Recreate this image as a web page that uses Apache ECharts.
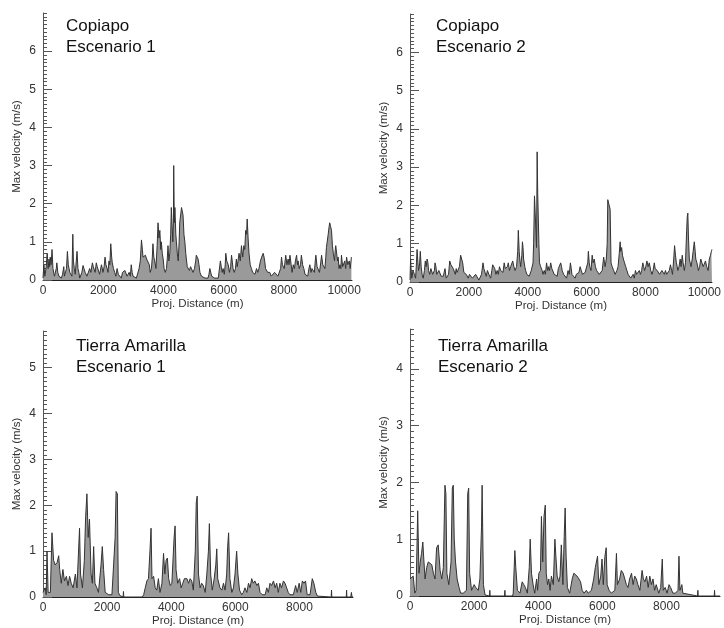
<!DOCTYPE html>
<html>
<head>
<meta charset="utf-8">
<title>Max velocity</title>
<script src="https://cdn.jsdelivr.net/npm/echarts@6/dist/echarts.min.js"></script>
<style>
  html, body { margin: 0; padding: 0; background: #fff; }
  #chart { width: 724px; height: 628px; }
</style>
</head>
<body>
<div id="chart"></div>
<script>
// [distance (m), max velocity (m/s)]

// Copiapo, Escenario 1
const copiapo1 = [[0,0.05],[30,0.4],[60,0.1],[100,0.3],[140,0.7],[170,0.3],[200,0.55],[220,0.35],[240,0.6],[270,0.4],[300,0.8],[330,0.3],[350,0.35],[380,0.1],[420,0.1],[440,0.3],[460,0.45],[490,0.2],[530,0.1],[570,0.05],[610,0.05],[650,0.15],[690,0.35],[710,0.1],[740,0.1],[780,0.3],[810,0.75],[840,0.4],[860,0.45],[890,0.2],[920,0.25],[960,0.1],[990,1.2],[1010,0.5],[1040,0.3],[1070,0.15],[1090,0.1],[1130,0.75],[1160,0.3],[1190,0.2],[1220,0.05],[1250,0.05],[1290,0.2],[1330,0.38],[1360,0.3],[1400,0.2],[1430,0.25],[1460,0.1],[1500,0.1],[1550,0.3],[1590,0.2],[1640,0.45],[1670,0.35],[1700,0.3],[1730,0.2],[1770,0.45],[1800,0.35],[1840,0.3],[1880,0.15],[1910,0.2],[1940,0.4],[1970,0.3],[1990,0.2],[2030,0.35],[2060,0.6],[2090,0.4],[2130,0.3],[2160,0.2],[2190,0.5],[2220,0.4],[2250,0.95],[2280,0.6],[2300,0.45],[2340,0.3],[2380,0.2],[2420,0.1],[2460,0.3],[2500,0.15],[2550,0.1],[2600,0.05],[2640,0.2],[2680,0.15],[2720,0.25],[2760,0.2],[2790,0.1],[2830,0.05],[2860,0.2],[2900,0.1],[2930,0.4],[2960,0.2],[2990,0.1],[3050,0.05],[3100,0.05],[3150,0.1],[3190,0.3],[3230,0.5],[3270,1.05],[3300,0.8],[3320,0.6],[3360,0.65],[3400,0.65],[3440,0.55],[3490,0.6],[3530,0.4],[3560,0.2],[3600,0.3],[3630,0.6],[3650,0.95],[3680,0.6],[3710,0.5],[3750,0.3],[3790,0.9],[3820,1.5],[3850,1.1],[3880,1.3],[3910,0.8],[3930,1.0],[3960,0.7],[3990,0.55],[4020,0.3],[4060,0.2],[4100,0.3],[4130,0.6],[4150,0.9],[4180,0.5],[4210,0.7],[4240,1.2],[4260,1.9],[4290,1.85],[4310,1.0],[4330,1.5],[4340,3.0],[4360,1.5],[4380,1.9],[4410,1.2],[4430,1.0],[4460,0.7],[4490,0.5],[4520,1.0],[4540,1.5],[4570,1.55],[4600,1.9],[4630,1.85],[4650,1.7],[4680,1.2],[4710,1.0],[4740,0.7],[4760,0.55],[4790,0.35],[4820,0.4],[4860,0.25],[4900,0.35],[4930,0.3],[4980,0.2],[5030,0.3],[5070,0.5],[5090,0.65],[5120,0.6],[5150,0.55],[5180,0.4],[5210,0.2],[5260,0.1],[5320,0.05],[5380,0.05],[5430,0.05],[5480,0.05],[5510,0.15],[5540,0.3],[5570,0.25],[5600,0.1],[5650,0.1],[5700,0.05],[5760,0.05],[5820,0.05],[5850,0.1],[5890,0.5],[5920,0.35],[5950,0.2],[5980,0.3],[6020,0.15],[6050,0.4],[6070,0.7],[6100,0.5],[6150,0.4],[6190,0.2],[6230,0.35],[6260,0.65],[6290,0.45],[6310,0.3],[6350,0.2],[6390,0.3],[6420,0.55],[6450,0.35],[6480,0.4],[6510,0.7],[6550,0.5],[6590,0.9],[6630,0.6],[6670,0.9],[6700,0.8],[6730,1.3],[6760,1.2],[6780,1.6],[6810,1.1],[6840,0.7],[6880,0.4],[6920,0.3],[6960,0.2],[7000,0.25],[7040,0.15],[7090,0.3],[7130,0.2],[7170,0.3],[7220,0.5],[7260,0.6],[7310,0.7],[7340,0.6],[7360,0.5],[7390,0.3],[7420,0.3],[7460,0.2],[7500,0.25],[7530,0.2],[7580,0.1],[7640,0.1],[7690,0.2],[7750,0.15],[7800,0.1],[7860,0.1],[7890,0.3],[7920,0.6],[7950,0.4],[7970,0.4],[8010,0.3],[8060,0.65],[8100,0.4],[8140,0.55],[8170,0.4],[8200,0.65],[8240,0.4],[8270,0.2],[8310,0.4],[8350,0.3],[8380,0.5],[8420,0.65],[8450,0.4],[8470,0.5],[8510,0.3],[8550,0.4],[8580,0.65],[8620,0.4],[8660,0.3],[8700,0.15],[8750,0.2],[8790,0.1],[8830,0.3],[8860,0.4],[8900,0.2],[8930,0.3],[8970,0.35],[9010,0.2],[9040,0.5],[9060,0.65],[9100,0.35],[9140,0.4],[9180,0.2],[9220,0.45],[9250,0.65],[9290,0.4],[9320,0.45],[9360,0.3],[9390,0.6],[9410,0.85],[9440,0.9],[9470,1.2],[9500,1.4],[9520,1.5],[9550,1.4],[9580,1.3],[9610,0.9],[9640,0.7],[9680,0.5],[9700,0.75],[9720,0.9],[9750,0.85],[9780,0.5],[9800,0.6],[9830,0.3],[9860,0.4],[9890,0.3],[9910,0.65],[9950,0.35],[9990,0.4],[10020,0.5],[10050,0.3],[10080,0.6],[10120,0.4],[10170,0.5],[10200,0.3],[10240,0.6]]

// Copiapo, Escenario 2
const copiapo2 = [[0,0.05],[20,0.6],[40,0.3],[60,0.1],[100,0.3],[150,0.2],[190,0.1],[220,0.5],[240,0.85],[270,0.5],[290,0.3],[320,0.4],[350,0.8],[380,0.4],[410,0.2],[450,0.1],[490,0.3],[520,0.55],[550,0.4],[580,0.6],[610,0.5],[630,0.3],[670,0.2],[710,0.35],[740,0.3],[770,0.2],[800,0.15],[830,0.3],[850,0.5],[880,0.4],[910,0.2],[940,0.2],[980,0.3],[1020,0.3],[1060,0.15],[1100,0.2],[1130,0.15],[1160,0.25],[1190,0.35],[1230,0.1],[1270,0.05],[1310,0.2],[1350,0.55],[1390,0.45],[1430,0.5],[1470,0.35],[1510,0.3],[1540,0.2],[1570,0.35],[1600,0.25],[1640,0.2],[1680,0.4],[1720,0.7],[1760,0.75],[1790,0.5],[1830,0.25],[1870,0.3],[1910,0.2],[1950,0.15],[1980,0.1],[2020,0.2],[2070,0.2],[2120,0.1],[2180,0.1],[2230,0.2],[2290,0.15],[2340,0.05],[2380,0.1],[2430,0.2],[2480,0.5],[2510,0.35],[2540,0.3],[2590,0.15],[2630,0.3],[2680,0.2],[2740,0.1],[2780,0.3],[2810,0.45],[2850,0.4],[2880,0.35],[2920,0.2],[2960,0.3],[3000,0.2],[3040,0.4],[3080,0.3],[3120,0.35],[3160,0.25],[3200,0.5],[3240,0.35],[3270,0.3],[3310,0.4],[3340,0.5],[3380,0.3],[3420,0.4],[3460,0.45],[3490,0.55],[3530,0.4],[3570,0.3],[3620,0.4],[3660,0.8],[3680,1.35],[3710,0.8],[3730,0.6],[3760,0.4],[3800,0.7],[3820,1.05],[3840,0.9],[3860,0.6],[3900,0.4],[3930,0.3],[3970,0.2],[4010,0.2],[4050,0.15],[4090,0.2],[4120,0.3],[4150,0.3],[4180,0.5],[4200,1.0],[4230,2.25],[4260,2.2],[4280,1.3],[4300,0.9],[4320,3.4],[4340,2.3],[4350,2.35],[4380,1.0],[4400,0.5],[4440,0.4],[4490,0.3],[4520,0.2],[4560,0.3],[4600,0.2],[4640,0.5],[4680,0.3],[4710,0.4],[4740,0.3],[4780,0.5],[4820,0.35],[4860,0.3],[4900,0.2],[4950,0.25],[5000,0.15],[5040,0.35],[5080,0.3],[5120,0.5],[5150,0.4],[5170,0.3],[5220,0.2],[5280,0.2],[5320,0.1],[5370,0.3],[5410,0.2],[5450,0.5],[5480,0.35],[5500,0.2],[5550,0.15],[5610,0.1],[5650,0.2],[5700,0.2],[5740,0.25],[5780,0.4],[5820,0.3],[5860,0.2],[5910,0.15],[5950,0.25],[6000,0.3],[6040,0.5],[6060,0.8],[6090,0.5],[6110,0.4],[6150,0.3],[6190,0.7],[6220,0.5],[6260,0.6],[6300,0.4],[6340,0.3],[6390,0.25],[6430,0.2],[6480,0.15],[6530,0.3],[6580,0.65],[6610,0.5],[6630,0.4],[6670,0.6],[6700,1.0],[6720,2.15],[6750,2.1],[6770,2.15],[6800,1.9],[6830,0.5],[6870,0.4],[6920,0.3],[6970,0.2],[7030,0.3],[7070,0.4],[7110,0.75],[7140,1.05],[7160,0.8],[7190,0.9],[7220,0.7],[7250,0.6],[7290,0.5],[7330,0.4],[7370,0.3],[7410,0.2],[7450,0.15],[7500,0.1],[7540,0.15],[7580,0.2],[7620,0.1],[7660,0.3],[7700,0.2],[7740,0.15],[7790,0.3],[7830,0.2],[7870,0.3],[7910,0.5],[7940,0.4],[7970,0.3],[8010,0.4],[8050,0.55],[8090,0.4],[8130,0.5],[8180,0.3],[8220,0.2],[8260,0.3],[8300,0.5],[8330,0.35],[8370,0.4],[8400,0.3],[8440,0.35],[8480,0.2],[8520,0.2],[8560,0.3],[8600,0.35],[8640,0.2],[8680,0.3],[8720,0.2],[8770,0.25],[8810,0.3],[8850,0.45],[8890,0.3],[8920,0.2],[8960,0.6],[8990,0.95],[9020,0.7],[9050,0.5],[9080,0.4],[9100,0.3],[9140,0.4],[9180,0.6],[9210,0.4],[9250,0.7],[9280,0.5],[9320,0.3],[9360,0.5],[9400,1.35],[9420,1.7],[9440,1.8],[9460,1.2],[9490,0.6],[9520,0.5],[9550,0.4],[9590,0.6],[9620,0.8],[9660,1.05],[9690,0.8],[9710,0.6],[9750,0.5],[9800,0.3],[9840,0.4],[9880,0.6],[9920,0.5],[9960,0.4],[10000,0.45],[10040,0.55],[10080,0.4],[10130,0.3],[10170,0.6],[10210,0.7],[10240,0.8],[10260,0.85]]

// Tierra Amarilla, Escenario 1
const tierra1 = [[0,0.1],[70,0.2],[100,0.05],[125,1.0],[160,0.1],[230,0.1],[280,1.4],[330,0.8],[380,0.7],[440,0.75],[490,0.9],[520,0.6],[570,0.3],[620,0.6],[670,0.35],[730,0.45],[780,0.25],[830,0.45],[880,0.3],[940,0.2],[1010,0.5],[1060,0.2],[1140,1.5],[1170,0.5],[1230,0.2],[1290,0.8],[1330,1.75],[1370,2.25],[1410,1.3],[1450,1.7],[1500,0.5],[1540,0.3],[1580,1.1],[1620,0.3],[1680,0.2],[1730,0.1],[1810,0.7],[1850,1.1],[1890,0.6],[1940,0.1],[2050,0.05],[2150,0.05],[2250,1.3],[2280,2.3],[2320,2.25],[2350,0.1],[2400,0.03],[2500,0],[2510,0.12],[2520,0],[2800,0],[3100,0],[3140,0.05],[3190,0.2],[3240,0.35],[3290,0.4],[3340,1.05],[3370,1.5],[3400,0.4],[3450,0.45],[3500,0.2],[3550,0.15],[3600,0.4],[3650,0.1],[3710,0.3],[3760,0.95],[3800,0.5],[3840,0.8],[3880,0.85],[3920,0.4],[3970,0.25],[4020,0.3],[4090,1.3],[4120,1.55],[4150,0.6],[4200,0.3],[4260,0.4],[4310,0.2],[4360,0.3],[4410,0.4],[4490,0.4],[4540,0.3],[4590,0.4],[4640,0.35],[4690,0.15],[4750,1.0],[4780,2.05],[4810,2.2],[4850,0.5],[4900,0.2],[4950,0.3],[5000,0.25],[5060,0.1],[5110,0.5],[5160,1.0],[5190,1.6],[5230,0.5],[5280,0.15],[5340,0.4],[5390,0.7],[5420,1.05],[5450,0.4],[5520,0.2],[5580,0.15],[5630,0.3],[5680,0.15],[5730,0.5],[5760,1.1],[5790,1.4],[5830,0.4],[5890,0.1],[5940,0.2],[5990,0.5],[6040,1.0],[6080,0.5],[6130,0.15],[6200,0.05],[6250,0.1],[6300,0.2],[6360,0.1],[6410,0.3],[6460,0.2],[6510,0.4],[6560,0.3],[6610,0.35],[6670,0.25],[6720,0.3],[6770,0.1],[6840,0.05],[6930,0.05],[6980,0.2],[7030,0.1],[7080,0.3],[7130,0.25],[7190,0.35],[7240,0.2],[7290,0.3],[7340,0.1],[7390,0.3],[7440,0.2],[7500,0.35],[7550,0.3],[7600,0.3],[7650,0.1],[7700,0.05],[7810,0.05],[7880,0.25],[7930,0.1],[7990,0.3],[8040,0.1],[8090,0.35],[8140,0.3],[8190,0.35],[8240,0.05],[8330,0.05],[8400,0.4],[8450,0.3],[8510,0.1],[8560,0.02],[8990,0],[9000,0.15],[9010,0],[9460,0],[9470,0.15],[9480,0],[9600,0],[9620,0.1],[9640,0],[9670,0]]

// Tierra Amarilla, Escenario 2
const tierra2 = [[0,0.3],[50,0.3],[100,0.35],[150,0.05],[190,0.1],[240,1.5],[280,0.4],[320,0.6],[360,0.75],[400,0.95],[430,0.65],[470,0.3],[520,0.5],[570,0.6],[620,0.6],[680,0.55],[730,0.4],[780,0.3],[830,0.85],[880,0.9],[940,0.45],[990,0.3],[1040,0.5],[1090,1.95],[1120,1.8],[1150,0.4],[1210,0.2],[1280,0.6],[1320,1.9],[1350,1.95],[1380,1.0],[1420,0.6],[1470,0.3],[1530,0.15],[1580,0.05],[1660,0.05],[1760,0.1],[1800,1.8],[1830,1.9],[1860,0.4],[1920,0.1],[2000,0.2],[2050,0.15],[2130,0.1],[2180,0.3],[2230,1.2],[2250,1.95],[2290,0.2],[2340,0.02],[2480,0],[2490,0.1],[2500,0],[2950,0],[2960,0.1],[2970,0],[3200,0],[3220,0.05],[3270,0.8],[3300,0.5],[3350,0.1],[3430,0.05],[3500,0.25],[3550,0.2],[3600,0.15],[3660,0.05],[3720,0.5],[3750,1.0],[3790,0.4],[3840,0.2],[3890,0.05],[3950,0.3],[3980,0.1],[4020,0.4],[4070,0.45],[4100,1.4],[4140,0.6],[4180,1.4],[4220,1.6],[4250,0.4],[4290,0.2],[4330,0.3],[4370,0.1],[4410,0.35],[4470,0.2],[4520,1.0],[4550,0.7],[4590,0.35],[4640,0.25],[4680,0.35],[4720,0.9],[4770,0.2],[4810,1.05],[4840,1.55],[4870,0.7],[4910,0.15],[4980,0.05],[5060,0.3],[5110,0.4],[5160,0.4],[5210,0.35],[5270,0.3],[5320,0.25],[5370,0.1],[5430,0.05],[5500,0.1],[5560,0.05],[5660,0.1],[5730,0.3],[5780,0.5],[5850,0.7],[5890,0.2],[5950,0.35],[5990,0.65],[6030,0.2],[6080,0.7],[6120,0.85],[6150,0.2],[6210,0.1],[6280,0.05],[6390,0.1],[6440,0.75],[6470,0.2],[6540,0.3],[6590,0.45],[6650,0.4],[6700,0.3],[6750,0.2],[6800,0.15],[6850,0.3],[6910,0.4],[6960,0.2],[7010,0.35],[7060,0.3],[7110,0.2],[7170,0.1],[7240,0.45],[7280,0.3],[7330,0.25],[7380,0.35],[7430,0.15],[7480,0.35],[7530,0.2],[7580,0.3],[7630,0.1],[7680,0.2],[7760,0.05],[7820,0.15],[7870,0.65],[7900,0.1],[7960,0.15],[8020,0.05],[8080,0.2],[8130,0.15],[8200,0.05],[8280,0.05],[8360,0.1],[8390,0.7],[8420,0.1],[8480,0.2],[8510,0.05],[8570,0.02],[8970,0],[8980,0.1],[8990,0],[9490,0],[9500,0.1],[9510,0],[9670,0]]

const xTicks = [0, 2000, 4000, 6000, 8000, 10000]
const yTicks = [0, 1, 2, 3, 4, 5, 6]

// one entry per panel: title, data, axis ranges and grid box
const panels = [
  { title: 'Copiapo\nEscenario 1', data: copiapo1, xMax: 10260, yMax: 7,
    box: { left: 43, top: 13, width: 309, height: 267 }, tx: 66, ty: 16 },
  { title: 'Copiapo\nEscenario 2', data: copiapo2, xMax: 10260, yMax: 7,
    box: { left: 410, top: 14, width: 310, height: 268 }, tx: 436, ty: 16 },
  { title: 'Tierra Amarilla\nEscenario 1', data: tierra1, xMax: 9670, yMax: 5.8,
    box: { left: 43, top: 331, width: 310, height: 266 }, tx: 76, ty: 336 },
  { title: 'Tierra Amarilla\nEscenario 2', data: tierra2, xMax: 9670, yMax: 4.7,
    box: { left: 410, top: 329, width: 310, height: 267 }, tx: 438, ty: 336 }
]

const font = 'Liberation Sans, Arial, Helvetica, sans-serif'
const labelStyle = { color: '#333', fontSize: 12, fontFamily: font }
const nameStyle = { color: '#333', fontSize: 11.5, fontFamily: font }

const grid = [], xAxis = [], yAxis = [], series = [], title = []

panels.forEach((p, i) => {
  grid.push(Object.assign({ containLabel: false }, p.box))

  title.push({
    text: p.title, left: p.tx, top: p.ty, padding: 0,
    textStyle: { color: '#111', fontSize: 17, fontWeight: 'normal', fontFamily: font, lineHeight: 21 }
  })

  xAxis.push({
    type: 'value', gridIndex: i, min: 0, max: p.xMax, interval: 2000,
    name: 'Proj. Distance (m)', nameLocation: 'middle', nameGap: 17,
    nameTextStyle: nameStyle,
    axisLine: { lineStyle: { color: '#222', width: 1 } },
    axisTick: { show: false },
    splitLine: { show: false },
    axisLabel: Object.assign({ margin: 5, customValues: xTicks.filter(v => v <= p.xMax),
      formatter: v => String(v) }, labelStyle)
  })

  const yt = yTicks.filter(v => v <= p.yMax)
  // minor ticks every 0.1
  yAxis.push({
    type: 'value', gridIndex: i, position: 'left', min: 0, max: p.yMax, interval: 0.1,
    axisLine: { show: true, lineStyle: { color: '#555', width: 1 } },
    axisTick: { show: true, inside: true, length: 4, lineStyle: { color: '#555' } },
    axisLabel: { show: false },
    splitLine: { show: false }
  })
  // major ticks, labels and axis name, drawn over the same left edge
  yAxis.push({
    type: 'value', gridIndex: i, position: 'left', offset: 0, min: 0, max: p.yMax, interval: 1,
    name: 'Max velocity (m/s)', nameLocation: 'middle', nameGap: 20,
    nameTextStyle: nameStyle,
    axisLine: { show: false },
    axisTick: { show: true, inside: true, length: 9, customValues: yt, lineStyle: { color: '#555' } },
    axisLabel: Object.assign({ margin: 7, customValues: yt }, labelStyle),
    splitLine: { show: false }
  })

  series.push({
    type: 'line', xAxisIndex: i, yAxisIndex: i * 2,
    data: p.data,
    symbol: 'none', animation: false,
    lineStyle: { color: '#333', width: 1 },
    areaStyle: { color: '#9a9a9a', opacity: 1 }
  })
})

const chart = echarts.init(document.getElementById('chart'))
chart.setOption({ animation: false, backgroundColor: '#fff', title, grid, xAxis, yAxis, series })
</script>
</body>
</html>
